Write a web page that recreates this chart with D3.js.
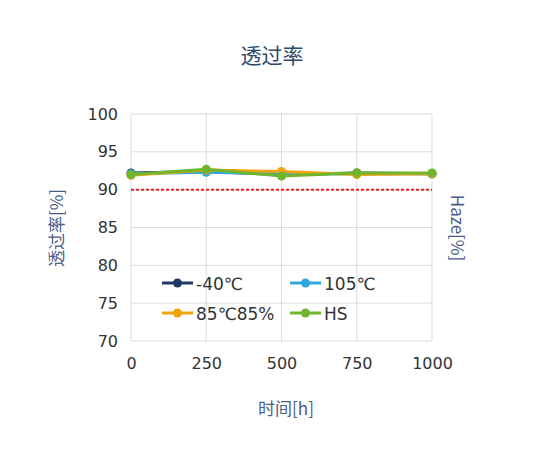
<!DOCTYPE html>
<html>
<head>
<meta charset="utf-8">
<script src="https://cdn.jsdelivr.net/npm/d3@7"></script>
<style>
  body { margin: 0; background: #fff; }
  svg text { font-family: "Noto Sans CJK SC", "Open Sans", sans-serif; }
</style>
</head>
<body>
<div id="chart"></div>
<script>
// data
var hours = [0, 250, 500, 750, 1000];
var minus40 = [92.2, 92.4, 92.0, 92.2, 92.1];
var c105 = [92.1, 92.3, 92.1, 92.1, 92.1];
var c85rh85 = [91.9, 92.6, 92.4, 92.0, 92.1];
var hs = [92.0, 92.7, 91.8, 92.2, 92.2];
var seriesNames = ["-40℃", "105℃", "85℃85%", "HS"];
var seriesColors = ["#1f3864", "#2ea8e0", "#f0a30a", "#70b62c"];
var yTicks = [70, 75, 80, 85, 90, 95, 100];
var limit = 90;

var W = 543, H = 463;
var svg = d3.select("#chart").append("svg").attr("width", W).attr("height", H);

var x = d3.scaleLinear().domain([0, 1000]).range([131, 432]);
var y = d3.scaleLinear().domain([70, 100]).range([341, 114]);

// grid
svg.append("g").selectAll("line").data(yTicks).join("line")
  .attr("x1", x(0)).attr("x2", x(1000))
  .attr("y1", d => y(d)).attr("y2", d => y(d))
  .attr("stroke", "#dcdcdc").attr("stroke-width", 1);
svg.append("g").selectAll("line").data(hours).join("line")
  .attr("x1", d => x(d)).attr("x2", d => x(d))
  .attr("y1", y(70)).attr("y2", y(100))
  .attr("stroke", "#dcdcdc").attr("stroke-width", 1);

// axes (labels only)
var yAxis = svg.append("g").attr("transform", "translate(" + x(0) + ",0)")
  .call(d3.axisLeft(y).tickValues(yTicks).tickSize(0).tickPadding(13));
var xAxis = svg.append("g").attr("transform", "translate(0," + y(70) + ")")
  .call(d3.axisBottom(x).tickValues(hours).tickFormat(d3.format("d")).tickSize(0).tickPadding(17));
[yAxis, xAxis].forEach(function(a) {
  a.select(".domain").remove();
  a.selectAll("text").attr("font-size", 16).attr("fill", "#333")
    .style("font-family", "'DejaVu Sans', sans-serif");
});

// limit line
svg.append("line")
  .attr("x1", x(0)).attr("x2", x(1000))
  .attr("y1", y(limit)).attr("y2", y(limit))
  .attr("stroke", "#e8242a").attr("stroke-width", 2).attr("stroke-dasharray", "3,2");

// series
var allSeries = [minus40, c105, c85rh85, hs];
var line = d3.line().x((d, i) => x(hours[i])).y(d => y(d));
allSeries.forEach(function(vals, k) {
  var g = svg.append("g");
  g.append("path").datum(vals).attr("d", line)
    .attr("fill", "none").attr("stroke", seriesColors[k]).attr("stroke-width", 3);
  g.selectAll("circle").data(vals).join("circle")
    .attr("cx", (d, i) => x(hours[i])).attr("cy", d => y(d)).attr("r", 4.5)
    .attr("fill", seriesColors[k]);
});

// legend
var legendPos = [[162, 283], [290, 283], [162, 313], [290, 313]];
seriesNames.forEach(function(name, k) {
  var lx = legendPos[k][0], ly = legendPos[k][1];
  svg.append("line").attr("x1", lx).attr("x2", lx + 31).attr("y1", ly).attr("y2", ly)
    .attr("stroke", seriesColors[k]).attr("stroke-width", 3);
  svg.append("circle").attr("cx", lx + 15.5).attr("cy", ly).attr("r", 4.5).attr("fill", seriesColors[k]);
  svg.append("text").attr("x", lx + 34).attr("y", ly + 7).attr("font-size", 17)
    .attr("fill", "#333").style("font-family", "'DejaVu Sans', 'Noto Sans CJK SC', sans-serif").text(name);
});

// titles
svg.append("text").attr("x", 272).attr("y", 63).attr("text-anchor", "middle")
  .attr("font-size", 21).attr("fill", "#2e4a6b").text("透过率");
svg.append("text").attr("transform", "translate(63,228) rotate(-90)").attr("text-anchor", "middle")
  .attr("font-size", 17).attr("fill", "#4a5d8a").text("透过率[%]");
svg.append("text").attr("transform", "translate(451,228) rotate(90)").attr("text-anchor", "middle")
  .attr("font-size", 17).attr("fill", "#4a5d8a").text("Haze[%]");
svg.append("text").attr("x", 286).attr("y", 415).attr("text-anchor", "middle")
  .attr("font-size", 17).attr("fill", "#4a5d8a").text("时间[h]");
</script>
</body>
</html>
